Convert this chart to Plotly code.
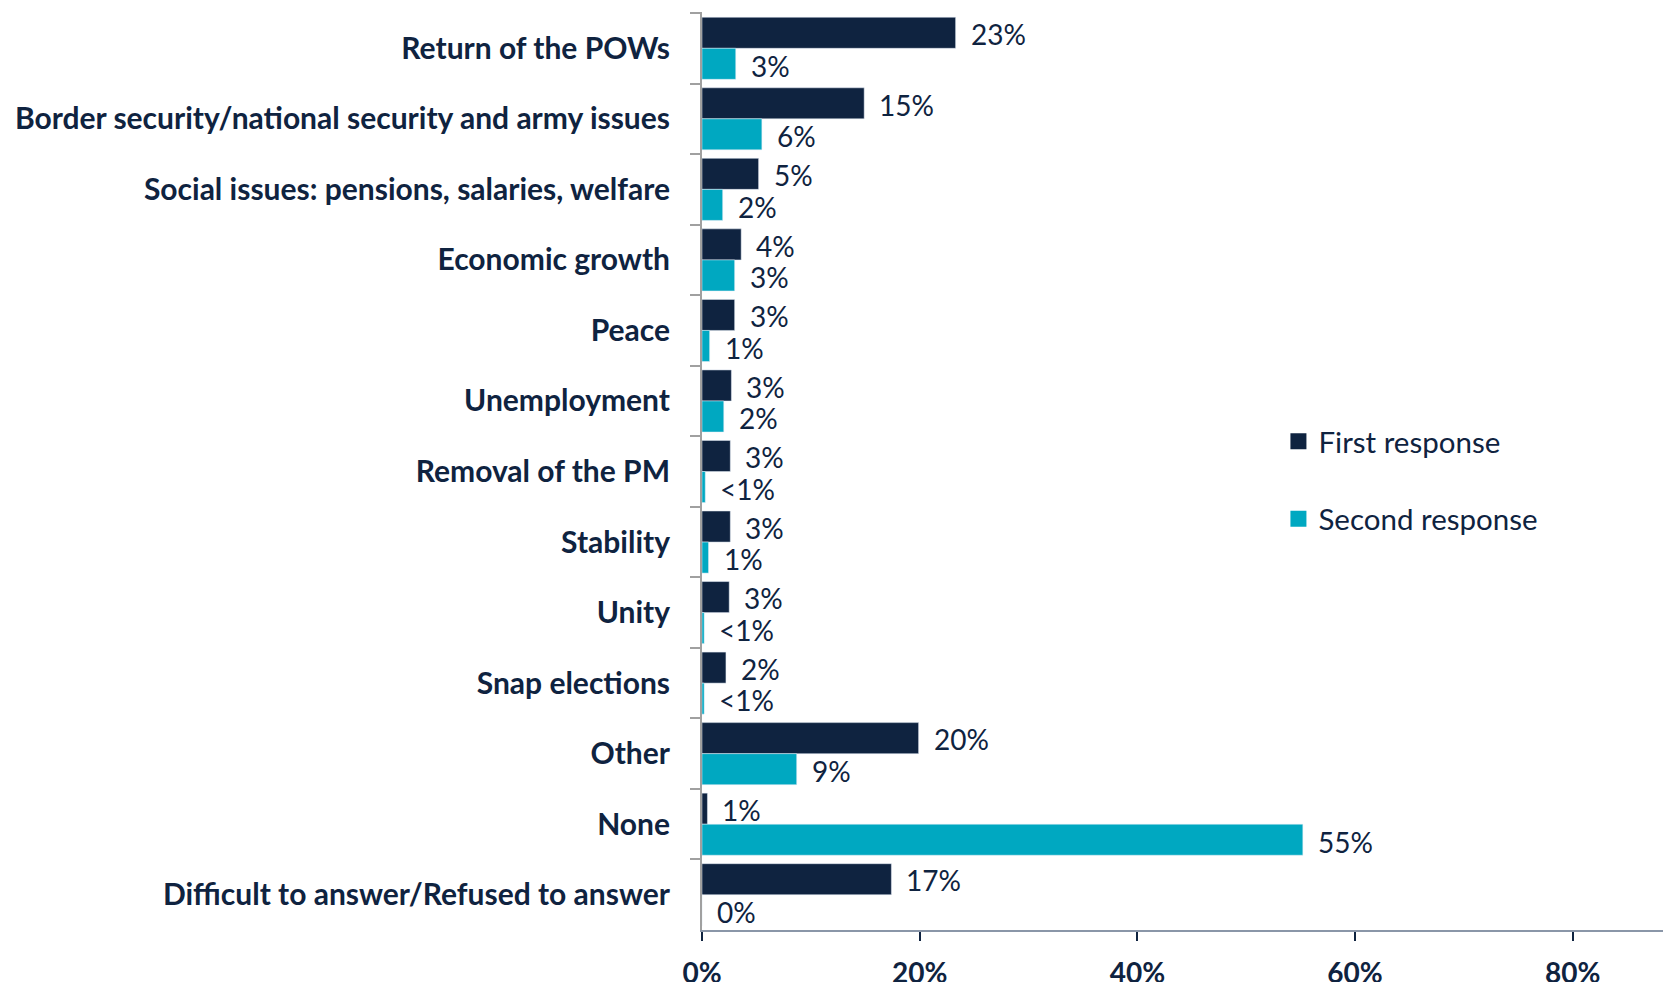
import plotly.graph_objects as go

categories = [
    "Return of the POWs",
    "Border security/national security and army issues",
    "Social issues: pensions, salaries, welfare",
    "Economic growth",
    "Peace",
    "Unemployment",
    "Removal of the PM",
    "Stability",
    "Unity",
    "Snap elections",
    "Other",
    "None",
    "Difficult to answer/Refused to answer",
]
first_values = [23.3, 14.9, 5.2, 3.6, 3.0, 2.7, 2.6, 2.6, 2.5, 2.2, 19.9, 0.5, 17.4]
second_values = [3.1, 5.5, 1.9, 3.0, 0.7, 2.0, 0.3, 0.6, 0.2, 0.2, 8.7, 55.2, 0.0]
first_labels = ["23%", "15%", "5%", "4%", "3%", "3%", "3%", "3%", "3%", "2%", "20%", "1%", "17%"]
second_labels = ["3%", "6%", "2%", "3%", "1%", "2%", "<1%", "1%", "<1%", "<1%", "9%", "55%", "0%"]
x_tick_values = [0, 20, 40, 60, 80]
x_tick_labels = ["0%", "20%", "40%", "60%", "80%"]
series_names = ["First response", "Second response"]

NAVY = "#0F2340"
TEAL = "#00A8C1"
TEXT = "#0F2340"
FONT = "Lato"

fig = go.Figure()
fig.add_trace(go.Bar(y=categories, x=first_values, orientation="h", name=series_names[0],
                     marker=dict(color=NAVY), showlegend=False))
fig.add_trace(go.Bar(y=categories, x=second_values, orientation="h", name=series_names[1],
                     marker=dict(color=TEAL), showlegend=False))
# legend-only entries (square swatches like the reference)
for name, col, grp in ((series_names[0], NAVY, "a"), (series_names[1], TEAL, "b")):
    fig.add_trace(go.Scatter(x=[None], y=[None], mode="markers", name=name,
                             marker=dict(symbol="square", size=16, color=col),
                             legendgroup=grp, showlegend=True, hoverinfo="skip"))

annotations = []
for vals, labels, ys in ((first_values, first_labels, 15.8), (second_values, second_labels, -15.8)):
    for cat, v, lab in zip(categories, vals, labels):
        annotations.append(dict(
            x=v, y=cat, xref="x", yref="y", text=lab.replace("<", "&lt;"),
            showarrow=False, xanchor="left", yanchor="middle",
            xshift=13, yshift=ys - 1.5,
            font=dict(family=FONT, size=28, color=TEXT),
        ))

fig.update_layout(
    width=1671, height=982,
    margin=dict(l=694, r=0, t=4, b=60),
    paper_bgcolor="white", plot_bgcolor="white",
    barmode="group", bargap=0.12, bargroupgap=0,
    font=dict(family=FONT, color=TEXT),
    annotations=annotations,
    showlegend=True,
    legend=dict(x=0.59, y=0.49, xanchor="left", yanchor="middle",
                font=dict(family=FONT, size=29.5, color=TEXT),
                traceorder="grouped", tracegroupgap=36,
                bgcolor="rgba(0,0,0,0)"),
)
fig.update_xaxes(
    range=[0, 89.76], tickvals=x_tick_values, ticktext=x_tick_labels,
    showgrid=False, zeroline=False, automargin=False,
    showline=True, linecolor="#8A96A8", linewidth=2,
    ticks="outside", ticklen=9, tickwidth=2, tickcolor=NAVY,
    tickfont=dict(family=FONT, size=28, color=TEXT, weight="bold"),
    ticklabelstandoff=8,
)
fig.update_yaxes(
    autorange="reversed", showgrid=False, zeroline=False, automargin=False,
    showline=True, linecolor="#A0A0A0", linewidth=2,
    ticks="outside", ticklen=10, tickwidth=2, tickcolor="#A0A0A0",
    tickson="boundaries",
    tickfont=dict(family=FONT, size=30, color=TEXT, weight="bold"),
    ticklabelstandoff=24,
)

fig.write_html("out.html")
